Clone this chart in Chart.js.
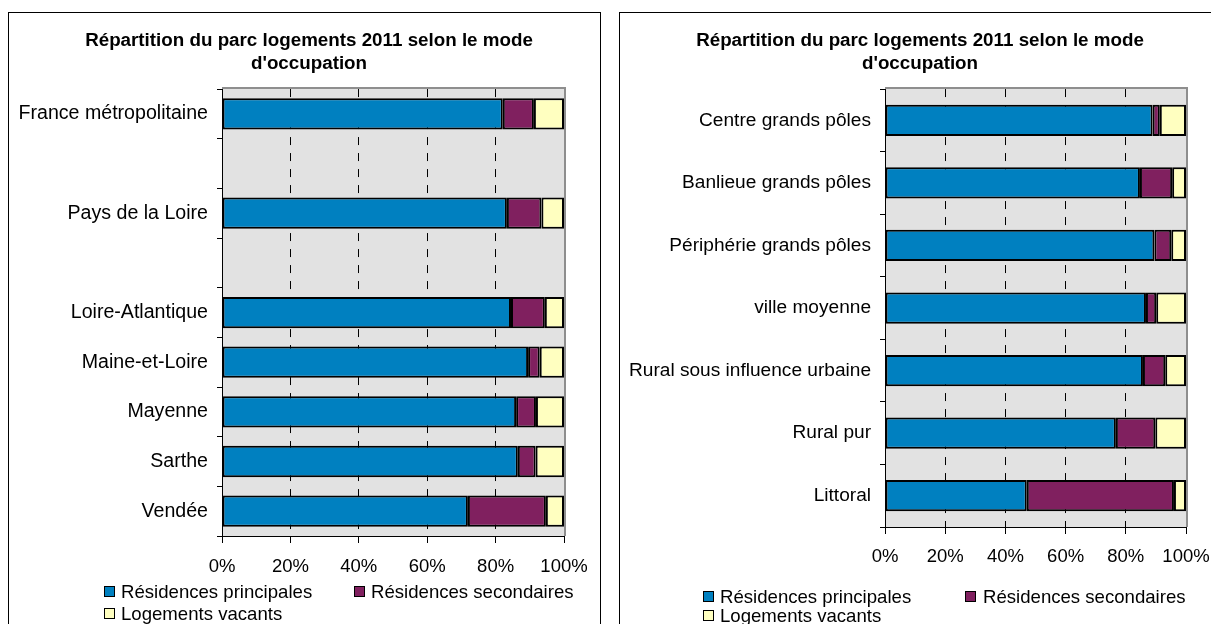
<!DOCTYPE html>
<html><head><meta charset="utf-8">
<script src="https://cdn.jsdelivr.net/npm/chart.js@4/dist/chart.umd.min.js"></script>
<style>
body{margin:0;width:1211px;height:624px;overflow:hidden;background:#fff;position:relative;font-family:"Liberation Sans",Arial,sans-serif;}
.frame{position:absolute;border:1px solid #000;box-sizing:border-box;}
.cv{position:absolute;}
.item{position:absolute;white-space:nowrap;line-height:20px;height:20px;font-size:18.6px;color:#000;}
.box{position:absolute;width:9px;height:9px;border:1.5px solid #000;}
</style></head>
<body>
<div class="frame" style="left:8px;top:12px;width:593px;height:640px"></div>
<div class="frame" style="left:619px;top:12px;width:620px;height:640px"></div>
<div class="cv" style="left:8px;top:12px;width:592px;height:612px"><canvas id="c1"></canvas></div>
<div class="cv" style="left:619px;top:12px;width:592px;height:612px"><canvas id="c2"></canvas></div>
<div id="legends"></div>
<script>
// ---- data ----
const chartTitle = ["Répartition du parc logements 2011 selon le mode", "d'occupation"];
const seriesNames = ['Résidences principales', 'Résidences secondaires', 'Logements vacants'];
const seriesColors = ['#0080C0', '#80205F', '#FFFFC0'];
const tickLabels = ['0%', '20%', '40%', '60%', '80%', '100%'];

const categoriesLeft = ['France métropolitaine', '', 'Pays de la Loire', '', 'Loire-Atlantique', 'Maine-et-Loire', 'Mayenne', 'Sarthe', 'Vendée'];
const principalesLeft = [82.1, null, 83.3, null, 84.5, 89.5, 86.0, 86.5, 71.9];
const secondairesLeft = [9.1, null, 10.1, null, 9.9, 3.4, 5.8, 5.2, 22.8];
const vacantsLeft = [8.8, null, 6.6, null, 5.6, 7.1, 8.2, 8.3, 5.3];

const categoriesRight = ['Centre grands pôles', 'Banlieue grands pôles', 'Périphérie grands pôles', 'ville moyenne', 'Rural sous influence urbaine', 'Rural pur', 'Littoral'];
const principalesRight = [88.9, 84.7, 89.5, 86.7, 85.7, 76.7, 47.1];
const secondairesRight = [2.4, 10.7, 5.6, 3.4, 7.4, 13.1, 48.9];
const vacantsRight = [8.7, 4.6, 4.9, 9.9, 6.9, 10.2, 4.0];

// ---- rendering ----
const FONT = '"Liberation Sans", Arial, sans-serif';
const plotBg = {
  id: 'plotBg',
  beforeDraw(chart) {
    const {ctx, chartArea: a} = chart;
    ctx.save();
    ctx.fillStyle = '#E2E2E2';
    ctx.fillRect(a.left, a.top, a.width, a.height);
    ctx.restore();
  },
  afterDraw(chart) {
    const {ctx, chartArea: a} = chart;
    ctx.save();
    ctx.strokeStyle = '#8E8E8E';
    ctx.lineWidth = 2;
    ctx.beginPath();
    ctx.moveTo(a.left, a.top - 1);
    ctx.lineTo(a.right + 1, a.top - 1);
    ctx.lineTo(a.right + 1, a.bottom);
    ctx.stroke();
    ctx.restore();
  }
};

function makeChart(id, labels, values, cfg) {
  const datasets = values.map((v, i) => ({
    label: seriesNames[i],
    data: v,
    backgroundColor: seriesColors[i],
    borderColor: '#000',
    borderWidth: 2,
    borderSkipped: false,
    barPercentage: cfg.barPct,
    categoryPercentage: 1
  }));
  return new Chart(document.getElementById(id), {
    type: 'bar',
    data: {labels, datasets},
    plugins: [plotBg],
    options: {
      indexAxis: 'y',
      responsive: true,
      maintainAspectRatio: false,
      animation: false,
      layout: {padding: {left: 10, right: 0, top: 0, bottom: cfg.padBottom}},
      plugins: {
        legend: {display: false},
        tooltip: {enabled: false},
        title: {
          display: true,
          text: chartTitle,
          color: '#000',
          font: {family: FONT, size: 18.8, weight: 'bold', lineHeight: 1.23},
          padding: {top: 17.4, bottom: 13.4}
        }
      },
      scales: {
        x: {
          stacked: true,
          min: 0, max: 100,
          ticks: {
            stepSize: 20,
            color: '#000',
            font: {family: FONT, size: 18.5},
            padding: cfg.xPad,
            maxRotation: 0,
            callback: (v, i) => tickLabels[i]
          },
          grid: {
            color: (c) => (c.tick && (c.tick.value === 0 || c.tick.value === 100)) ? 'rgba(0,0,0,0)' : '#000',
            tickColor: '#000',
            tickLength: 7,
            lineWidth: 1
          },
          border: {color: '#000', width: 1, dash: [8, 8]},
          afterFit: (s) => { s.height = 50; s.paddingLeft = 0; s.paddingRight = 0; }
        },
        y: {
          stacked: true,
          ticks: {color: '#000', font: {family: FONT, size: cfg.labelSize}, padding: 9, autoSkip: false},
          grid: {drawOnChartArea: false, tickColor: '#000', tickLength: 5},
          border: {color: '#000', width: 1},
          afterFit: (s) => { s.width = cfg.yWidth; }
        },
        y2: {
          type: 'category',
          position: 'right',
          ticks: {display: false},
          grid: {display: false},
          border: {display: false},
          afterFit: (s) => { s.width = cfg.rightWidth; }
        }
      }
    }
  });
}

makeChart('c1', categoriesLeft, [principalesLeft, secondairesLeft, vacantsLeft],
  {barPct: 0.63, padBottom: 38, yWidth: 204, rightWidth: 36, xPad: 13, labelSize: 19.6});
makeChart('c2', categoriesRight, [principalesRight, secondairesRight, vacantsRight],
  {barPct: 0.5, padBottom: 47, yWidth: 256, rightWidth: 25, xPad: 12, labelSize: 19.1});

// HTML legends
const legendPos = [
  {items: [[104, 586, 121, 582], [354, 586, 371, 582], [104, 608, 121, 604]]},
  {items: [[703, 591, 720, 587], [965, 591, 983, 587], [703, 610, 720, 606]]}
];
const lg = document.getElementById('legends');
legendPos.forEach(p => {
  p.items.forEach((it, i) => {
    const b = document.createElement('div');
    b.className = 'box';
    b.style.left = it[0] + 'px'; b.style.top = it[1] + 'px';
    b.style.background = seriesColors[i];
    lg.appendChild(b);
    const t = document.createElement('div');
    t.className = 'item';
    t.style.left = it[2] + 'px'; t.style.top = it[3] + 'px';
    t.textContent = seriesNames[i];
    lg.appendChild(t);
  });
});
</script>
</body></html>
